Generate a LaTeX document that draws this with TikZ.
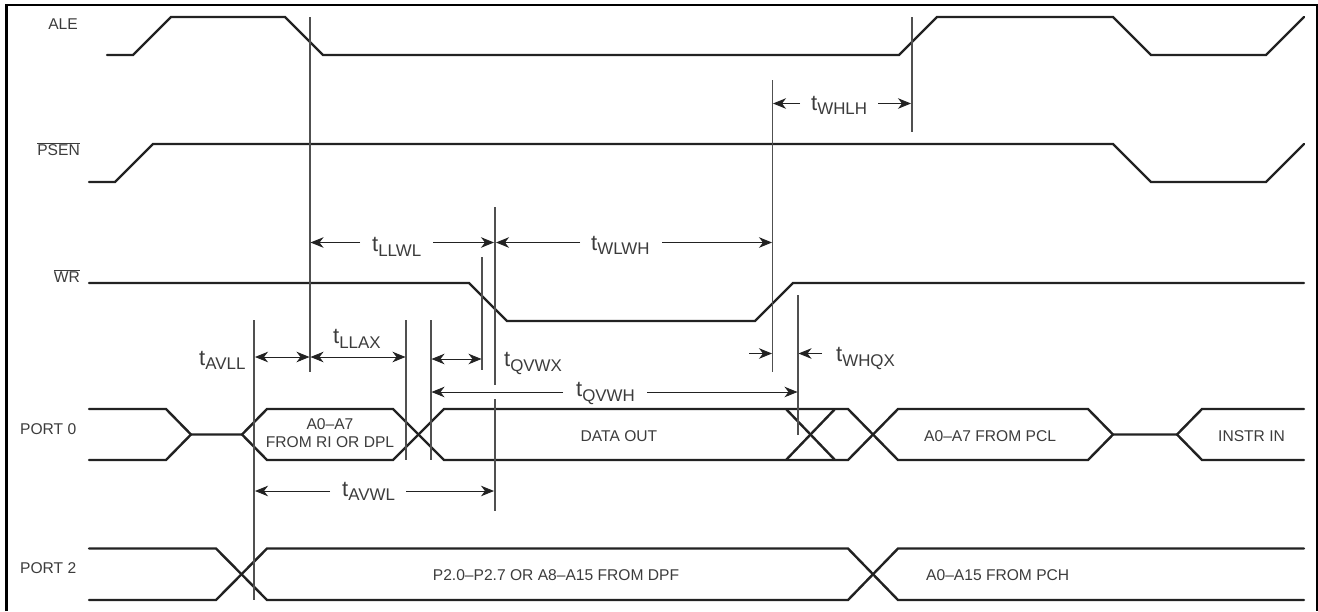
\documentclass[tikz,border=0pt]{standalone}
\usepackage{fontspec}
\setmainfont{Liberation Sans}
\usetikzlibrary{arrows.meta}
\definecolor{sig}{HTML}{222222}
\definecolor{guide}{HTML}{505050}
\definecolor{lbl}{HTML}{3C3C3C}
\newcommand{\tsb}[1]{{\fontsize{22}{22}\selectfont t}\raisebox{-4.5pt}{\fontsize{16.9}{16.9}\selectfont #1}}
\tikzset{
  signal/.style={draw=sig,line width=2.4pt,line join=miter,line cap=round},
  guideline/.style={draw=guide,line width=1.1pt},
  dimline/.style={draw=sig,line width=0.9pt,-{Stealth[length=13pt,width=10.5pt,inset=4pt]}},
  dimboth/.style={draw=sig,line width=0.9pt,{Stealth[length=13pt,width=10.5pt,inset=4pt]}-{Stealth[length=13pt,width=10.5pt,inset=4pt]}},
  sigtext/.style={inner sep=0pt,text=lbl,font=\fontsize{15.6}{15.6}\selectfont},
  timetext/.style={inner sep=0pt,anchor=base west,text=lbl},
}
\begin{document}
\begin{tikzpicture}[x=1pt,y=-1pt]
\useasboundingbox (0,0) rectangle (1318,611);
\fill[white] (0,0) rectangle (1318,611);
% frame
\draw[black,line width=2.4pt] (6.5,611) -- (6.5,5) -- (1317,5) -- (1317,611);
% signals
\draw[signal] (107,55) -- (133,55) -- (171,17) -- (285,17) -- (323,55) -- (899,55) -- (937,17) -- (1113,17) -- (1151,55) -- (1266,55) -- (1304,17);
\draw[signal] (89,182) -- (115,182) -- (153,144) -- (1113,144) -- (1151,182) -- (1266,182) -- (1304,144);
\draw[signal] (89,283) -- (469,283) -- (507,321) -- (755,321) -- (793,283) -- (1304,283);
% port 0
\draw[signal] (89,409) -- (166,409) -- (191,434.5) -- (242,434.5) -- (267,409) -- (393,409) -- (444,460) -- (848,460) -- (898,409) -- (1088,409) -- (1113,434.5) -- (1177,434.5) -- (1202,409) -- (1304,409);
\draw[signal] (89,460) -- (166,460) -- (191,434.5);
\draw[signal] (242,434.5) -- (267,460) -- (393,460) -- (444,409) -- (848,409) -- (898,460) -- (1088,460) -- (1113,434.5);
\draw[signal] (1177,434.5) -- (1202,460) -- (1304,460);
\draw[signal] (786,409) -- (835,460);
\draw[signal] (786,460) -- (835,409);
% port 2
\draw[signal] (89,548.5) -- (216,548.5) -- (267,600) -- (848,600) -- (898,548.5) -- (1304,548.5);
\draw[signal] (89,600) -- (216,600) -- (267,548.5) -- (848,548.5) -- (898,600) -- (1304,600);
% guides
\draw[guideline] (310,17) -- (310,372);
\draw[guideline] (912,17) -- (912,132);
\draw[guideline] (772.5,80) -- (772.5,372);
\draw[guideline] (495,207) -- (495,385);
\draw[guideline] (495,399) -- (495,511);
\draw[guideline] (482,257) -- (482,370);
\draw[guideline] (254,320) -- (254,600);
\draw[guideline] (406,320) -- (406,460);
\draw[guideline] (431,320) -- (431,460);
\draw[guideline] (798,295) -- (798,435);
% dimension arrows
\draw[dimline] (800,103.5) -- (773,103.5);
\draw[dimline] (878,103.5) -- (911,103.5);
\draw[dimline] (360,242.5) -- (310.5,242.5);
\draw[dimline] (433,242.5) -- (494,242.5);
\draw[dimline] (580,242.5) -- (496,242.5);
\draw[dimline] (662,242.5) -- (772,242.5);
\draw[dimboth] (255,357) -- (309.5,357);
\draw[dimboth] (310.5,357) -- (405.5,357);
\draw[dimboth] (431.5,359) -- (481.5,359);
\draw[dimline] (749,353.5) -- (772,353.5);
\draw[dimline] (822,353.5) -- (798.5,353.5);
\draw[dimline] (563,392) -- (431.5,392);
\draw[dimline] (647,392) -- (797.5,392);
\draw[dimline] (330,491) -- (255,491);
\draw[dimline] (406,491) -- (494,491);
% signal names
\node[sigtext,anchor=base east] (ale) at (78,29.7) {ALE};
\node[sigtext,anchor=base east] (psen) at (80,155.7) {$\overline{\mbox{PSEN}}$};
\node[sigtext,anchor=base east] (wr) at (80,282.7) {$\overline{\mbox{WR}}$};
\node[sigtext,anchor=base west] (port0) at (20,434.3) {PORT 0};
\node[sigtext,anchor=base west] (port2) at (20,573.7) {PORT 2};
% bus contents
\node[sigtext,anchor=base] (a7a) at (330,429.5) {A0–A7};
\node[sigtext,anchor=base] (a7b) at (330,447.3) {FROM RI OR DPL};
\node[sigtext,anchor=base] (dout) at (619,441) {DATA OUT};
\node[sigtext,anchor=base west] (pcl) at (924,441.7) {A0–A7 FROM PCL};
\node[sigtext,anchor=base west] (instr) at (1218,441.7) {INSTR IN};
\node[sigtext,anchor=base west] (dpf) at (432.7,580.7) {P2.0–P2.7 OR A8–A15 FROM DPF};
\node[sigtext,anchor=base west] (pch) at (926,580.7) {A0–A15 FROM PCH};
% timing names
\node[timetext] (whlh) at (811,110) {\tsb{WHLH}};
\node[timetext] (llwl) at (372,251.5) {\tsb{LLWL}};
\node[timetext] (wlwh) at (591,250) {\tsb{WLWH}};
\node[timetext] (llax) at (333,343.5) {\tsb{LLAX}};
\node[timetext] (avll) at (199,365) {\tsb{AVLL}};
\node[timetext] (qvwx) at (504,366.5) {\tsb{QVWX}};
\node[timetext] (whqx) at (836,361.5) {\tsb{WHQX}};
\node[timetext] (qvwh) at (576,396.5) {\tsb{QVWH}};
\node[timetext] (avwl) at (342,496) {\tsb{AVWL}};
\end{tikzpicture}
\end{document}
